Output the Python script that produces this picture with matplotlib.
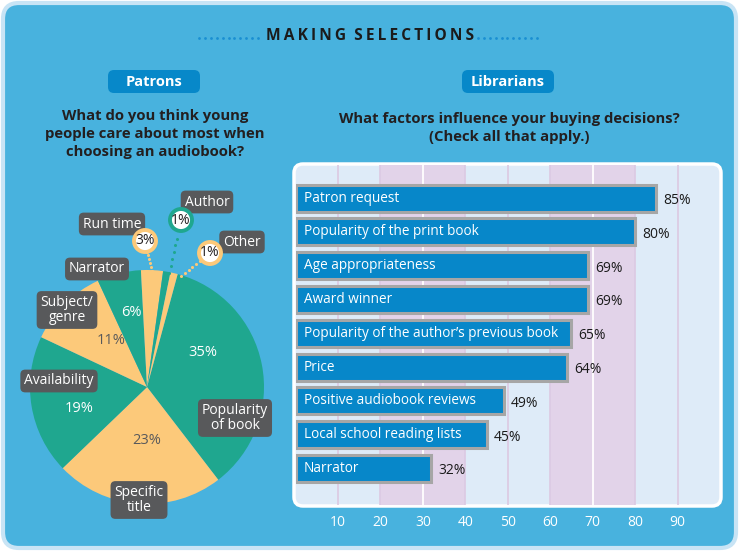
import matplotlib
matplotlib.use("Agg")
import matplotlib.pyplot as plt
from matplotlib.patches import FancyBboxPatch, Circle
import numpy as np

plt.rcParams['font.family'] = ['Open Sans', 'DejaVu Sans']

# ---------------- data ----------------
title = "MAKING SELECTIONS"
left_header = "Patrons"
right_header = "Librarians"
left_question = "What do you think young\npeople care about most when\nchoosing an audiobook?"
right_question = "What factors influence your buying decisions?\n(Check all that apply.)"

pie_labels = ["Popularity\nof book", "Specific\ntitle", "Availability", "Subject/\ngenre",
              "Narrator", "Run time", "Author", "Other"]
pie_values = [35, 23, 19, 11, 6, 3, 1, 1]

bar_labels = ["Patron request", "Popularity of the print book", "Age appropriateness",
              "Award winner", "Popularity of the author\u2019s previous book", "Price",
              "Positive audiobook reviews", "Local school reading lists", "Narrator"]
bar_values = [85, 80, 69, 69, 65, 64, 49, 45, 32]
x_ticks = [10, 20, 30, 40, 50, 60, 70, 80, 90]

# ---------------- style ----------------
W, H = 739, 551
BG = "#48b2de"
BORDER = "#c8e4f5"
TEAL = "#1fa78f"
YELLOW = "#fcc97a"
DARK = "#58595b"
BAR = "#0787c9"
BTN = "#0788c9"
PANEL = "#deebf8"
BAND = "#e2d3e9"
GRIDC = "#dccbe4"

fig = plt.figure(figsize=(W / 100, H / 100), dpi=100)
fig.patch.set_facecolor("white")


def px_axes(rect_px, z):
    x0, y0, w, h = rect_px
    return fig.add_axes([x0 / W, 1 - (y0 + h) / H, w / W, h / H], zorder=z)


# background overlay (pixel coordinates)
bg = fig.add_axes([0, 0, 1, 1], zorder=0)
bg.set_xlim(0, W)
bg.set_ylim(H, 0)
bg.axis("off")

bg.add_patch(FancyBboxPatch((3, 3), W - 6, H - 6, boxstyle="round,pad=0,rounding_size=16",
                            fc=BG, ec=BORDER, lw=3))

# title + dotted lines
spaced = "  ".join("\u2009".join(list(w)) for w in title.split())
bg.text(370, 36, spaced, ha="center", va="center", fontsize=11.2, fontweight="bold",
        color="#1b1b1b", family=["Open Sans", "DejaVu Sans"])
for xs in (np.arange(199, 263, 5.9), np.arange(478, 542, 5.9)):
    bg.plot(xs, np.full_like(xs, 37.5), ls="none", marker="o", ms=2.0, color="#1a8fd2", mec="none")

# header buttons
for cx, txt in ((154, left_header), (508, right_header)):
    bg.add_patch(FancyBboxPatch((cx - 46, 70), 92, 23, boxstyle="round,pad=0,rounding_size=6",
                                fc=BTN, ec="none"))
    bg.text(cx, 81.5, txt, ha="center", va="center", fontsize=10.5, fontweight="bold", color="white")

bg.text(155, 134, left_question, ha="center", va="center", fontsize=10.7, fontweight="bold",
        color="#231f20", linespacing=1.36)
bg.text(509, 128, right_question, ha="center", va="center", fontsize=10.7, fontweight="bold",
        color="#231f20", linespacing=1.32)

# bar panel background (rounded, white border)
bg.add_patch(FancyBboxPatch((294, 164), 427, 342, boxstyle="round,pad=0,rounding_size=9",
                            fc=PANEL, ec="white", lw=2.5))

# ---------------- pie ----------------
cx, cy, r = 147, 387, 117
pax = px_axes((cx - r, cy - r, 2 * r, 2 * r), 1)
pie_colors = [TEAL if i % 2 == 0 else YELLOW for i in range(len(pie_values))]
wedges, _ = pax.pie(pie_values, colors=pie_colors, startangle=74.8, counterclock=False,
                    radius=1, wedgeprops=dict(linewidth=0))
pax.set_xlim(-1, 1)
pax.set_ylim(-1, 1)
pax.set_aspect("equal")
pax.axis("off")

# ---------------- bars ----------------
bax = px_axes((295.5, 165, 424.5, 340), 1)
bax.patch.set_alpha(0)
bax.set_xlim(0, 100)
bax.set_ylim(9.08, -0.98)
bax.axvspan(20, 40, color=BAND, lw=0, zorder=0)
bax.axvspan(60, 80, color=BAND, lw=0, zorder=0)
for t in x_ticks:
    inband = (20 < t < 40) or (60 < t < 80)
    bax.axvline(t, color="white" if inband else GRIDC, lw=1.3, zorder=0.5)
y = np.arange(len(bar_values))
bax.barh(y, bar_values, height=0.8, color=BAR, edgecolor="#a6a6a6", linewidth=2.2, zorder=2)
for yi, lab, v in zip(y, bar_labels, bar_values):
    bax.text(1.9, yi, lab, ha="left", va="center", color="white", fontsize=9.8, zorder=3)
    bax.text(v + 1.6, yi + 0.07, f"{v}%", ha="left", va="center", color="#1b1b1b", fontsize=10, zorder=3)
bax.set_xticks(x_ticks)
bax.set_xticklabels([str(t) for t in x_ticks], color="white", fontsize=10)
bax.tick_params(axis="x", length=0, pad=7)
bax.set_yticks([])
for s in bax.spines.values():
    s.set_visible(False)

# ---------------- foreground overlay (pie annotations) ----------------
fg = fig.add_axes([0, 0, 1, 1], zorder=5)
fg.set_xlim(0, W)
fg.set_ylim(H, 0)
fg.axis("off")
fg.patch.set_alpha(0)

box = dict(boxstyle="round,pad=0.28,rounding_size=0.35", fc=DARK, ec="none")
label_pos = {
    "Popularity\nof book": (235, 418),
    "Specific\ntitle": (139, 500),
    "Availability": (59, 381),
    "Subject/\ngenre": (67, 310),
    "Narrator": (97, 269),
    "Run time": (112, 224),
    "Author": (207, 202),
    "Other": (242, 242),
}
for lab in pie_labels:
    x, yy = label_pos[lab]
    fg.text(x, yy, lab, ha="center", va="center", color="white", fontsize=10, bbox=box,
            linespacing=1.0)

pct_pos = [(203, 352, "white"), (147, 440, DARK), (79, 408, "white"), (111, 341, DARK),
           (131, 312, "white")]
for (x, yy, c), v in zip(pct_pos, pie_values[:5]):
    fg.text(x, yy, f"{v}%", ha="center", va="center", color=c, fontsize=10.5)

# badges for small slices with dotted leaders
badges = [  # (slice index, badge center, leader end, color)
    (5, (145, 241), (152, 271), YELLOW),
    (6, (181, 220), (169, 273), TEAL),
    (7, (210, 253), (181, 276), YELLOW),
]
for idx, (bx, by), (ex, ey), c in badges:
    n = 6
    xs = np.linspace(bx + (ex - bx) * 0.35, ex, n)
    ys = np.linspace(by + (ey - by) * 0.35, ey, n)
    fg.plot(xs, ys, ls="none", marker="o", ms=2.2, color=c, mec="none")
    fg.add_patch(Circle((bx, by), 11, fc="white", ec=c, lw=2.8, zorder=3))
    fg.text(bx, by, f"{pie_values[idx]}%", ha="center", va="center", color="#231f20",
            fontsize=10, zorder=4)

fig.savefig("out.png", dpi=100, facecolor="white")
